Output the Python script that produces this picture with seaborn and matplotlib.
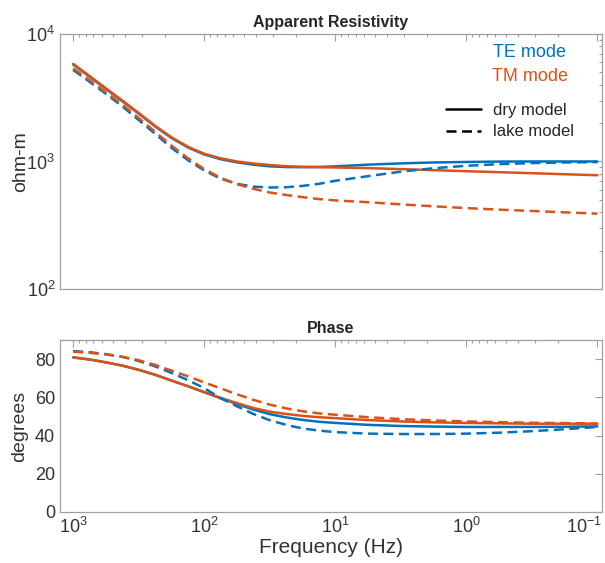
import numpy as np
import pandas as pd
import matplotlib
matplotlib.use("Agg")
import matplotlib.pyplot as plt
from matplotlib.lines import Line2D
from matplotlib.ticker import LogLocator, NullFormatter, MultipleLocator
from matplotlib.transforms import ScaledTranslation
import seaborn as sns

# ---------------- data ----------------
freq = [1000, 750, 562, 422, 316, 237, 178, 133, 100, 75, 56.2, 42.2, 31.6,
        23.7, 17.8, 13.3, 10, 5.62, 3.16, 1.78, 1.0, 0.562, 0.316, 0.178, 0.1]

rho_te_dry = [5754, 4620, 3698, 2972, 2371, 1884, 1531, 1288, 1135, 1042, 984,
              944, 916, 904, 902, 906, 916, 944, 966, 982, 991, 998, 1000, 1000,
              1000]
rho_tm_dry = [5821, 4677, 3741, 3006, 2399, 1905, 1549, 1303, 1148, 1059, 1000,
              964, 938, 918, 908, 902, 897, 887, 871, 855, 839, 824, 809, 794,
              780]
rho_te_lake = [5224, 4217, 3388, 2704, 2113, 1648, 1282, 1023, 851, 733, 668,
               635, 625, 628, 643, 668, 705, 767, 832, 885, 925, 953, 971, 982,
               989]
rho_tm_lake = [5370, 4335, 3483, 2786, 2188, 1706, 1334, 1059, 871, 745, 664,
               610, 571, 546, 525, 507, 495, 479, 461, 445, 431, 419, 409, 399,
               390]

ph_te_dry = [80.9, 79.8, 78.3, 76.6, 74.4, 71.8, 68.8, 65.8, 62.7, 59.5, 56.5,
             53.6, 51.2, 49.5, 48.2, 47.2, 46.6, 45.6, 45.0, 44.7, 44.5, 44.5,
             44.5, 44.6, 44.8]
ph_tm_dry = [80.9, 79.8, 78.3, 76.6, 74.4, 71.8, 68.8, 65.8, 62.7, 59.7, 57.0,
             54.4, 52.5, 51.3, 50.3, 49.6, 49.1, 48.1, 47.4, 46.9, 46.6, 46.4,
             46.2, 46.2, 46.2]
ph_te_lake = [84.2, 83.6, 82.6, 81.2, 79.0, 76.2, 72.8, 69.0, 64.8, 59.6, 55.3,
              51.3, 48.0, 45.6, 43.7, 42.6, 41.8, 41.0, 40.8, 40.8, 41.0, 41.5,
              42.3, 43.3, 44.5]
ph_tm_lake = [83.9, 83.3, 82.4, 81.2, 79.4, 77.0, 74.0, 71.0, 67.8, 64.7, 61.6,
              58.7, 56.2, 54.2, 52.7, 51.6, 50.9, 49.6, 48.6, 47.9, 47.4, 47.0,
              46.7, 46.5, 46.3]

modes = ["TE mode", "TM mode"]
models = ["dry model", "lake model"]
xtick_vals = [1000, 100, 10, 1, 0.1]
xtick_labels = [r"$10^{3}$", r"$10^{2}$", r"$10^{1}$", r"$10^{0}$", r"$10^{-1}$"]

rows = []
for mode, model, rho, ph in [
    ("TE mode", "dry model", rho_te_dry, ph_te_dry),
    ("TM mode", "dry model", rho_tm_dry, ph_tm_dry),
    ("TE mode", "lake model", rho_te_lake, ph_te_lake),
    ("TM mode", "lake model", rho_tm_lake, ph_tm_lake),
]:
    for f, r, p in zip(freq, rho, ph):
        rows.append(dict(freq=f, rho=r, phase=p, mode=mode, model=model))
df = pd.DataFrame(rows)

# ---------------- style ----------------
sns.set_style("white")
plt.rcParams["font.family"] = ["Liberation Sans", "DejaVu Sans"]
plt.rcParams["mathtext.fontset"] = "custom"
plt.rcParams["mathtext.rm"] = "Liberation Sans"

blue = "#0072BD"
orange = "#D95319"
palette = {"TE mode": blue, "TM mode": orange}
dashes = {"dry model": "", "lake model": (4, 2.2)}
frame_col = "#a0a0a0"
text_col = "#333333"

fig = plt.figure(figsize=(6.05, 5.63), dpi=100)
ax1 = fig.add_axes([0.0992, 0.4867, 0.896, 0.453])
ax2 = fig.add_axes([0.0992, 0.0906, 0.896, 0.3055])

for mdl in models:
    for mode in modes:
        sub = df[(df["mode"] == mode) & (df["model"] == mdl)]
        sns.lineplot(data=sub, x="freq", y="rho", color=palette[mode], ax=ax1,
                     linewidth=1.8, legend=False, sort=False, estimator=None)
        if mdl == "lake model":
            ax1.lines[-1].set_dashes(dashes[mdl])
        sns.lineplot(data=sub, x="freq", y="phase", color=palette[mode], ax=ax2,
                     linewidth=1.8, legend=False, sort=False, estimator=None)
        if mdl == "lake model":
            ax2.lines[-1].set_dashes(dashes[mdl])

for ax in (ax1, ax2):
    ax.set_xscale("log")
    ax.set_xlim(1260, 0.092)
    ax.set_xticks(xtick_vals)
    ax.set_xticklabels(xtick_labels)
    ax.xaxis.set_minor_locator(LogLocator(base=10, subs=np.arange(2, 10), numticks=20))
    ax.xaxis.set_minor_formatter(NullFormatter())
    for s in ax.spines.values():
        s.set_color(frame_col)
        s.set_linewidth(0.9)
        s.set_visible(True)
    ax.tick_params(which="both", direction="in", top=True, right=True,
                   color=frame_col, labelcolor=text_col, labelsize=13, width=0.8)
    ax.tick_params(which="major", length=5)
    ax.tick_params(which="minor", length=2.5)
    ax.grid(False)

ax1.set_yscale("log")
ax1.set_ylim(100, 10000)
ax1.yaxis.set_major_locator(LogLocator(base=10, numticks=10))
ax1.yaxis.set_minor_locator(LogLocator(base=10, subs=np.arange(2, 10), numticks=20))
ax1.yaxis.set_minor_formatter(NullFormatter())
ax1.tick_params(axis="x", which="both", labelbottom=False)
ax1.set_xlabel("")
ax1.set_ylabel("ohm-m", fontsize=14, color=text_col, labelpad=-2)
ax1.set_title("Apparent Resistivity", fontsize=11.5, fontweight="bold", pad=5)

ax2.set_ylim(0, 90)
ax2.yaxis.set_major_locator(MultipleLocator(20))
ax2.set_ylabel("degrees", fontsize=14, color=text_col, labelpad=5)
ax2.set_xlabel("Frequency (Hz)", fontsize=15, color=text_col, labelpad=1)
ax2.set_title("Phase", fontsize=11.5, fontweight="bold", pad=5)

# keep the last frequency label inside the figure
last = ax2.get_xticklabels()[-1]
last.set_horizontalalignment("right")
last.set_transform(last.get_transform() + ScaledTranslation(5 / 100, 0, fig.dpi_scale_trans))

# legend (mode colours as text, model line styles)
ax1.text(0.867, 0.929, "TE mode", color=blue, fontsize=13, ha="center",
         va="center", transform=ax1.transAxes)
ax1.text(0.867, 0.835, "TM mode", color=orange, fontsize=13, ha="center",
         va="center", transform=ax1.transAxes)
handles = [Line2D([], [], color="black", lw=1.8),
           Line2D([], [], color="black", lw=1.8, dashes=dashes["lake model"])]
ax1.legend(handles, models, loc="upper left", bbox_to_anchor=(0.712, 0.728),
           frameon=False, fontsize=12, handlelength=2.1, handletextpad=0.7,
           labelspacing=0.37, borderpad=0, borderaxespad=0)

fig.savefig("out.png", dpi=100)
